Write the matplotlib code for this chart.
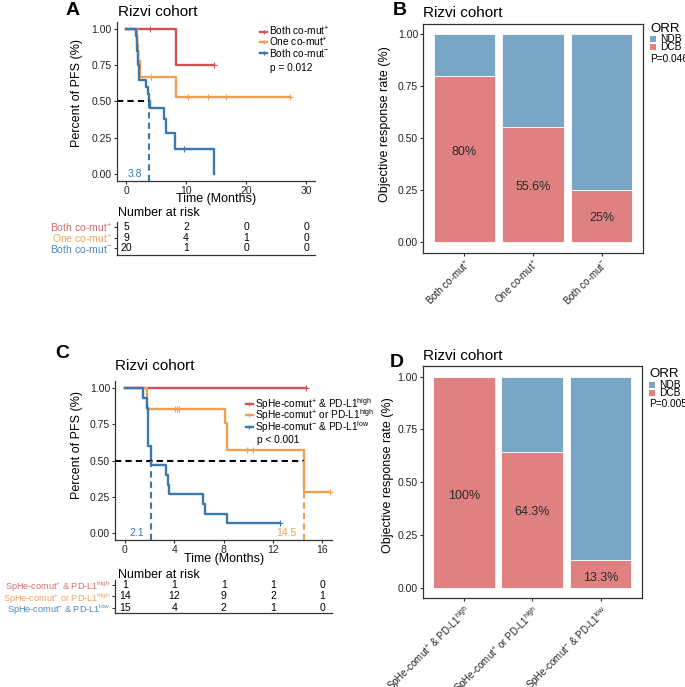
import numpy as np
import matplotlib.pyplot as plt
from matplotlib.lines import Line2D
from matplotlib.patches import Rectangle
from matplotlib.ticker import FormatStrFormatter

# ── 字体 ──
plt.rcParams['font.family'] = ['Liberation Sans', 'DejaVu Sans']
plt.rcParams['mathtext.fontset'] = 'custom'
plt.rcParams['mathtext.rm'] = 'Liberation Sans'
plt.rcParams['mathtext.it'] = 'Liberation Sans:italic'
plt.rcParams['mathtext.bf'] = 'Liberation Sans:bold'

# ── 数据：A 图 KM ──
a_labels = [r'Both co-mut$^{+}$', r'One co-mut$^{+}$', r'Both co-mut$^{-}$']
a_red_t = [0, 8.3, 14.7]
a_red_s = [1.0, 0.75, 0.75]
a_red_ct = [4.0, 14.7]
a_red_cs = [1.0, 0.75]
a_org_t = [0, 1.8, 2.0, 2.3, 8.3, 27.3]
a_org_s = [1.0, 0.889, 0.778, 0.667, 0.533, 0.533]
a_org_ct = [4.2, 10.4, 13.6, 16.6, 27.3]
a_org_cs = [0.667, 0.533, 0.533, 0.533, 0.533]
a_blu_t = [0, 1.6, 1.8, 1.9, 2.0, 2.1, 3.4, 3.6, 3.8, 4.0, 6.3, 6.6, 8.2, 14.6]
a_blu_s = [1.0, 0.95, 0.90, 0.85, 0.75, 0.65, 0.60, 0.55, 0.50, 0.453, 0.38, 0.283, 0.17, 0.0]
a_blu_ct = [9.7]
a_blu_cs = [0.17]
a_median = 3.8
a_risk_times = [0, 10, 20, 30]
a_risk = [[5, 2, 0, 0], [9, 4, 1, 0], [20, 1, 0, 0]]
a_pval = 'p = 0.012'

# ── 数据：C 图 KM ──
c_labels = [r'SpHe-comut$^{+}$ & PD-L1$^{\mathrm{high}}$',
            r'SpHe-comut$^{+}$ or PD-L1$^{\mathrm{high}}$',
            r'SpHe-comut$^{-}$ & PD-L1$^{\mathrm{low}}$']
c_red_t = [0, 14.65]
c_red_s = [1.0, 1.0]
c_red_ct = [14.65]
c_red_cs = [1.0]
c_org_t = [0, 1.76, 8.1, 8.3, 14.5, 16.6]
c_org_s = [1.0, 0.857, 0.762, 0.571, 0.286, 0.286]
c_org_ct = [4.05, 4.2, 4.35, 9.9, 10.4, 16.6]
c_org_cs = [0.857, 0.857, 0.857, 0.571, 0.571, 0.286]
c_blu_t = [0, 1.43, 1.76, 1.9, 2.1, 3.3, 3.45, 3.6, 6.3, 6.45, 8.3, 12.6]
c_blu_s = [1.0, 0.933, 0.867, 0.6, 0.467, 0.4, 0.333, 0.267, 0.2, 0.133, 0.067, 0.067]
c_blu_ct = [12.6]
c_blu_cs = [0.067]
c_medians = [2.1, 14.5]
c_risk_times = [0, 4, 8, 12, 16]
c_risk = [[1, 1, 1, 1, 0], [14, 12, 9, 2, 1], [15, 4, 2, 1, 0]]
c_pval = 'p < 0.001'

# ── 数据：B / D 图 ORR ──
b_cats = [r'Both co-mut$^{+}$', r'One co-mut$^{+}$', r'Both co-mut$^{-}$']
b_dcb_pct = [80, 55.6, 25]
b_pval = 'P=0.046'
d_cats = [r'SpHe-comut$^{+}$ & PD-L1$^{\mathrm{high}}$',
          r'SpHe-comut$^{+}$ or PD-L1$^{\mathrm{high}}$',
          r'SpHe-comut$^{-}$ & PD-L1$^{\mathrm{low}}$']
d_dcb_pct = [100, 64.3, 13.3]
d_pval = 'P=0.005'
# 百分比文字高度
b_text_y = [0.436, 0.267, 0.115]
d_text_y = [0.436, 0.357, 0.045]

# ── 颜色 ──
KM_RED, KM_ORG, KM_BLU = '#CF5354', '#F0A055', '#3B78AE'
TB_RED, TB_ORG, TB_BLU = '#D46A6A', '#F2A460', '#4A86BB'
BAR_RED, BAR_BLU = '#DF8180', '#7AA6C6'
DARK = '#333333'

W, H = 685, 687
fig = plt.figure(figsize=(W / 100, H / 100), dpi=100)
fig.patch.set_facecolor('white')


def box(x0, y0, x1, y1):
    return fig.add_axes([x0 / W, 1 - y1 / H, (x1 - x0) / W, (y1 - y0) / H])


def ftext(x, y, s, **kw):
    fig.text(x / W, 1 - y / H, s, **kw)


def style_axes(ax, full_box=False):
    for side in ['top', 'right']:
        ax.spines[side].set_visible(full_box)
    for sp in ax.spines.values():
        sp.set_color(DARK)
        sp.set_linewidth(0.9)
    ax.tick_params(length=2.5, width=0.8, color=DARK, labelsize=7.5,
                   labelcolor='#222222', pad=1.2)


def place_labels(ax, xl_y, yl_x, yl_y):
    # 轴标题位置（轴坐标）
    ax.xaxis.set_label_coords(0.5, xl_y)
    ax.xaxis.label.set_va('center')
    ax.yaxis.set_label_coords(yl_x, yl_y)
    ax.yaxis.label.set_va('center')


def km_panel(ax, curves, xlim, xticks, medians, med_colors):
    for t, s, ct, cs, col in curves:
        ax.step(t, s, where='post', color=col, lw=1.7, zorder=3)
        ax.plot(ct, cs, ls='none', marker='+', ms=4, mew=0.8, color=col, zorder=4)
    ax.plot([xlim[0], max(medians)], [0.5, 0.5], color='black', lw=1.5,
            ls=(0, (3, 2)), zorder=5)
    for m, col in zip(medians, med_colors):
        ax.plot([m, m], [-0.05, 0.5], color=col, lw=1.5, ls=(0, (3, 2)), zorder=5)
        ax.annotate(f'{m:g}', xy=(m, 0), xytext=(-5, 0), textcoords='offset points',
                    ha='right', va='center', fontsize=7.5, color=col)
    ax.set_xlim(xlim)
    ax.set_ylim(-0.05, 1.05)
    ax.set_xticks(xticks)
    ax.set_yticks([0, 0.25, 0.5, 0.75, 1.0])
    ax.yaxis.set_major_formatter(FormatStrFormatter('%.2f'))
    ax.set_xlabel('Time (Months)', fontsize=9)
    ax.set_ylabel('Percent of PFS (%)', fontsize=9)
    style_axes(ax)


def risk_table(ax, times, counts, labels, colors, xlim, ylim, label_fs):
    n = len(counts)
    for i, row in enumerate(counts):
        for t, v in zip(times, row):
            ax.text(t, n - i, str(v), ha='center', va='center', fontsize=7.5)
    ax.set_xlim(xlim)
    ax.set_ylim(ylim)
    ax.set_xticks([])
    ax.set_yticks(list(range(n, 0, -1)))
    ax.set_yticklabels(labels)
    style_axes(ax)
    ax.tick_params(axis='y', labelsize=label_fs, pad=1)
    for tl, c in zip(ax.get_yticklabels(), colors):
        tl.set_color(c)


def legend_lines(x, ys, labels, colors, fs=7.3):
    for y, lab, col in zip(ys, labels, colors):
        fig.add_artist(Line2D([x / W, (x + 7) / W], [1 - y / H, 1 - y / H],
                              color=col, lw=1.7))
        fig.add_artist(Line2D([(x + 3.5) / W], [1 - y / H], color=col,
                              marker='+', ms=3.5, mew=0.8, ls='none'))
        ftext(x + 9, y, lab, fontsize=fs, va='center', ha='left')


def bar_panel(ax, cats, pct, text_y):
    x = np.arange(1, len(cats) + 1)
    dcb = np.array(pct) / 100
    ax.bar(x, dcb, width=0.9, color=BAR_RED, edgecolor='white', lw=0.6)
    ax.bar(x, 1 - dcb, bottom=dcb, width=0.9, color=BAR_BLU, edgecolor='white', lw=0.6)
    for xi, p, ty in zip(x, pct, text_y):
        ax.text(xi, ty, f'{p:g}%', ha='center', va='center', fontsize=9,
                color='#2a2a2a')
    ax.set_xlim(0.4, len(cats) + 0.6)
    ax.set_ylim(-0.05, 1.05)
    ax.set_xticks(x)
    ax.set_xticklabels(cats, rotation=45, ha='right', va='top',
                       rotation_mode='anchor')
    ax.set_yticks([0, 0.25, 0.5, 0.75, 1.0])
    ax.yaxis.set_major_formatter(FormatStrFormatter('%.2f'))
    ax.set_ylabel('Objective response rate (%)', fontsize=9)
    style_axes(ax, full_box=True)
    ax.tick_params(axis='x', labelsize=7.0)


def orr_legend(x, y_title, y_ndb, y_dcb, y_p, pval):
    ftext(x, y_title, 'ORR', fontsize=9.5, va='baseline', ha='left')
    for yy, col, lab in [(y_ndb, BAR_BLU, 'NDB'), (y_dcb, BAR_RED, 'DCB')]:
        fig.add_artist(Rectangle((x / W, 1 - (yy + 3) / H), 6 / W, 6 / H,
                                 transform=fig.transFigure, color=col, lw=0))
        ftext(x + 10, yy, lab, fontsize=7.3, va='center', ha='left')
    ftext(x, y_p, pval, fontsize=7.3, va='center', ha='left')


# ── A ──
axA = box(117, 21.75, 315, 181)
km_panel(axA,
         [(a_red_t, a_red_s, a_red_ct, a_red_cs, KM_RED),
          (a_org_t, a_org_s, a_org_ct, a_org_cs, KM_ORG),
          (a_blu_t, a_blu_s, a_blu_ct, a_blu_cs, KM_BLU)],
         (-1.5, 31.5), [0, 10, 20, 30], [a_median], [KM_BLU])
place_labels(axA, -0.116, -0.2035, 0.55)
legend_lines(260, [31.7, 42.3, 52.7], a_labels, [KM_RED, KM_ORG, KM_BLU])
ftext(270, 68.3, a_pval, fontsize=7.3, va='center')

axAr = box(117, 222, 315, 255)
risk_table(axAr, a_risk_times, a_risk, a_labels, [TB_RED, TB_ORG, TB_BLU],
           (-1.5, 31.5), (0.36, 3.5), 7.5)
ftext(118, 216, 'Number at risk', fontsize=9, va='baseline')

# ── C ──
axC = box(115.1, 381.1, 332.2, 540.2)
km_panel(axC,
         [(c_red_t, c_red_s, c_red_ct, c_red_cs, KM_RED),
          (c_org_t, c_org_s, c_org_ct, c_org_cs, KM_ORG),
          (c_blu_t, c_blu_s, c_blu_ct, c_blu_cs, KM_BLU)],
         (-0.8, 16.8), [0, 4, 8, 12, 16], c_medians, [KM_BLU, KM_ORG])
place_labels(axC, -0.118, -0.177, 0.598)
legend_lines(246, [404, 415, 426.7], c_labels, [KM_RED, KM_ORG, KM_BLU])
ftext(256.7, 440, c_pval, fontsize=7.3, va='center')

axCr = box(115.1, 580, 332.2, 613.3)
risk_table(axCr, c_risk_times, c_risk, c_labels, [TB_RED, TB_ORG, TB_BLU],
           (-0.8, 16.8), (0.5, 3.45), 6.6)
ftext(118, 577.5, 'Number at risk', fontsize=9, va='baseline')

# ── B / D ──
axB = box(423.3, 24, 642.7, 252.5)
bar_panel(axB, b_cats, b_dcb_pct, b_text_y)
place_labels(axB, -0.1, -0.1746, 0.562)
orr_legend(650, 31.7, 39, 47, 59, b_pval)

axD = box(422.7, 366, 641.7, 598.3)
bar_panel(axD, d_cats, d_dcb_pct, d_text_y)
place_labels(axD, -0.1, -0.158, 0.531)
orr_legend(649.3, 376.7, 384.5, 393, 404, d_pval)

# ── 标题与面板字母 ──
for x, y, s in [(118, 15.7, 'Rizvi cohort'), (423, 16.7, 'Rizvi cohort'),
                (115, 370, 'Rizvi cohort'), (423, 360, 'Rizvi cohort')]:
    ftext(x, y, s, fontsize=11, va='baseline')
for x, y, s in [(66, 15, 'A'), (393, 15, 'B'), (55, 358, 'C'), (390, 367, 'D')]:
    ftext(x, y, s, fontsize=14, fontweight='bold', va='baseline')

fig.savefig('out.png', dpi=100, facecolor='white')
plt.close(fig)
